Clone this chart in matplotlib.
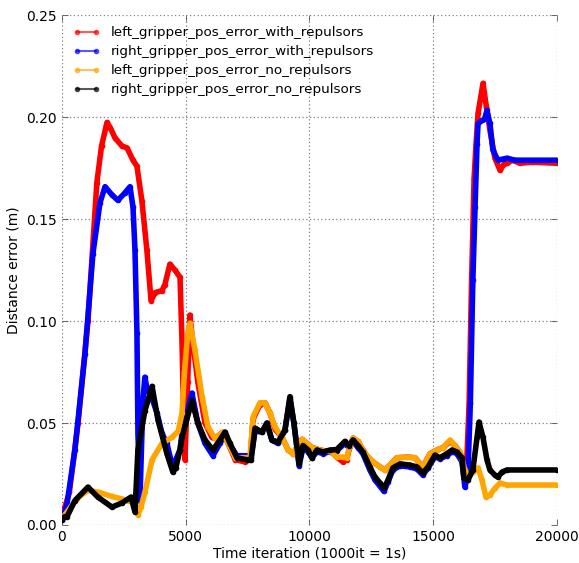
import matplotlib
matplotlib.use("Agg")
import matplotlib.pyplot as plt
from matplotlib.lines import Line2D
from matplotlib.ticker import FormatStrFormatter

labels = ["left_gripper_pos_error_with_repulsors",
          "right_gripper_pos_error_with_repulsors",
          "left_gripper_pos_error_no_repulsors",
          "right_gripper_pos_error_no_repulsors"]
colors = ["#ff0000", "#0000ff", "#ffa500", "#000000"]

red_x = [0, 300, 650, 1050, 1410, 1600, 1820, 1950, 2140, 2420, 2630, 2870, 3030, 3230, 3430, 3600,
         3760, 4040, 4160, 4360, 4570, 4770, 4850, 4920, 4970, 5080, 5170, 5300, 5490, 5780, 6060,
         6180, 6500, 6710, 7000, 7390, 7600, 7720, 8000, 8200, 8400, 8610, 8890, 9130, 9330, 9700,
         10100, 10420, 10900, 11100, 11350, 11500, 11640, 11760, 11960, 12160, 12360, 12560, 12850,
         13050, 13250, 13530, 13940, 14260, 14580, 14870, 15150, 15390, 15680, 15880, 16080, 16250,
         16350, 16450, 16550, 16650, 16730, 16810, 17010, 17150, 17290, 17490, 17700, 17850, 17980,
         18200, 18500, 19000, 20000]
red_y = [0.004, 0.016, 0.050, 0.100, 0.168, 0.186, 0.1975, 0.195, 0.190, 0.186, 0.185, 0.179, 0.176,
         0.159, 0.135, 0.110, 0.114, 0.115, 0.118, 0.128, 0.125, 0.1215, 0.090, 0.050, 0.032, 0.070,
         0.103, 0.088, 0.070, 0.050, 0.043,
         0.0425, 0.0455, 0.040, 0.032, 0.031, 0.032, 0.052, 0.059, 0.060, 0.055, 0.047, 0.043, 0.037,
         0.035, 0.042, 0.038, 0.0368, 0.0358, 0.0333, 0.031, 0.032, 0.039, 0.0426, 0.041, 0.0368,
         0.0333, 0.031, 0.0285, 0.027, 0.0294, 0.033, 0.0333, 0.033, 0.0285, 0.035, 0.0368, 0.038,
         0.041, 0.039, 0.0355, 0.028, 0.030, 0.060, 0.120, 0.170, 0.187, 0.202, 0.2167, 0.205, 0.1936,
         0.180, 0.174, 0.177, 0.1775, 0.179, 0.1775, 0.178, 0.1775]

blue_x = [0, 200, 525, 930, 1250, 1535, 1740, 2020, 2260, 2545, 2750, 2870, 2950, 3030, 3070, 3150,
          3270, 3350, 3450, 3550, 3640, 3840, 4040, 4240, 4480, 4600, 4770, 4850, 5250, 5490, 5780,
          6100, 6380, 6590, 6790, 7070, 7470, 7640, 7800, 8080, 8280, 8480, 8730, 9010, 9210, 9370,
          9580, 9740, 9940, 10100, 10300, 10540, 10830, 11100, 11430, 11600, 11760, 11960, 12160,
          12440, 12650, 12850, 13010, 13170, 13370, 13660, 14060, 14340, 14580, 14790, 15070, 15270,
          15550, 15760, 15960, 16160, 16280, 16400, 16500, 16600, 16690, 16770, 16810, 16970, 17070,
          17170, 17290, 17410, 17610, 17800, 17980, 18300, 20000]
blue_y = [0.0025, 0.010, 0.037, 0.084, 0.133, 0.158, 0.166, 0.162, 0.1593, 0.163, 0.166, 0.156,
          0.135, 0.094, 0.045, 0.012, 0.061, 0.0725, 0.066, 0.064, 0.062, 0.055, 0.045, 0.040, 0.028,
          0.032, 0.037, 0.045, 0.0647, 0.050, 0.040, 0.034, 0.040, 0.0446, 0.039, 0.034, 0.034, 0.033,
          0.046, 0.0456, 0.050, 0.0417, 0.040, 0.0466, 0.062, 0.050, 0.029, 0.038, 0.036, 0.033, 0.036,
          0.035, 0.036, 0.0365, 0.040, 0.038, 0.041, 0.038, 0.035, 0.027, 0.022, 0.019, 0.0165, 0.021,
          0.027, 0.029, 0.0285, 0.0275, 0.0245, 0.028, 0.0335, 0.0325, 0.034, 0.036, 0.035, 0.031,
          0.0186, 0.025, 0.060, 0.120, 0.156, 0.187, 0.197, 0.1985, 0.199, 0.2034, 0.197, 0.184, 0.179,
          0.1795, 0.180, 0.179, 0.179]

orange_x = [0, 300, 600, 1050, 1500, 2020, 2670, 2950, 3070, 3200, 3350, 3640, 4040, 4440, 4700, 4850,
            4950, 5080, 5170, 5370, 5660, 5900, 6180, 6500, 6710, 7000, 7390, 7600, 7720, 8000, 8200,
            8400, 8610, 8890, 9130, 9330, 9700, 10100, 10420, 10900, 11100, 11350, 11500, 11640,
            11760, 11960, 12160, 12360, 12560, 12850, 13050, 13250, 13530, 13940, 14260, 14580, 14870,
            15150, 15390, 15680, 15880, 16080, 16280, 16400, 16600, 16810, 16970, 17130, 17290, 17490,
            17700, 17980, 20000]
orange_y = [0.003, 0.008, 0.013, 0.017, 0.016, 0.014, 0.012, 0.011, 0.005, 0.009, 0.016, 0.032, 0.040,
            0.043, 0.046, 0.055, 0.075, 0.094, 0.099, 0.086, 0.063, 0.048, 0.0425, 0.0455, 0.040,
            0.033, 0.033, 0.033, 0.053, 0.060, 0.060, 0.055, 0.048, 0.043, 0.037, 0.035, 0.042, 0.038,
            0.0368, 0.0358, 0.0333, 0.0333, 0.033, 0.039, 0.0426, 0.041, 0.0368, 0.0333, 0.031, 0.0285,
            0.027, 0.0294, 0.033, 0.0333, 0.033, 0.0285, 0.035, 0.0368, 0.038, 0.0417, 0.039, 0.0358,
            0.027, 0.0235, 0.026, 0.028, 0.022, 0.0137, 0.0147, 0.018, 0.0206, 0.0196, 0.0196]

black_x = [0, 100, 200, 525, 1050, 1450, 2020, 2420, 2790, 2950, 3070, 3350, 3640, 3880, 4240, 4480,
           4600, 4770, 4850, 5250, 5490, 5780, 6100, 6380, 6590, 6790, 7070, 7470, 7640, 7800, 8080,
           8280, 8480, 8730, 9010, 9210, 9370, 9580, 9740, 9940, 10100, 10300, 10540, 10830, 11100,
           11430, 11600, 11760, 11960, 12160, 12440, 12650, 12850, 13010, 13170, 13370, 13660, 14060,
           14340, 14580, 14790, 15070, 15270, 15550, 15760, 15960, 16160, 16240, 16400, 16600, 16770,
           16850, 17010, 17170, 17290, 17490, 17610, 17780, 17980, 20000]
black_y = [0.0025, 0.004, 0.004, 0.012, 0.0186, 0.0137, 0.0088, 0.0108, 0.0137, 0.0064, 0.037, 0.056,
           0.068, 0.0515, 0.035, 0.026, 0.028, 0.037, 0.043, 0.061, 0.050, 0.0417, 0.0368, 0.0417,
           0.0456, 0.040, 0.033, 0.032, 0.032, 0.0475, 0.0456, 0.050, 0.0417, 0.0407, 0.0466, 0.063,
           0.050, 0.030, 0.039, 0.0368, 0.033, 0.0368, 0.0358, 0.0368, 0.037, 0.041, 0.039, 0.0417,
           0.039, 0.0358, 0.0285, 0.0235, 0.0206, 0.018, 0.022, 0.028, 0.030, 0.0294, 0.0285, 0.0255,
           0.0285, 0.0343, 0.033, 0.035, 0.0368, 0.0358, 0.033, 0.023, 0.022, 0.027, 0.043, 0.0505,
           0.043, 0.032, 0.027, 0.0245, 0.0235, 0.026, 0.027, 0.027]

series = [(red_x, red_y), (blue_x, blue_y), (orange_x, orange_y), (black_x, black_y)]

x_ticks = [0, 5000, 10000, 15000, 20000]
y_ticks = [0.00, 0.05, 0.10, 0.15, 0.20, 0.25]

plt.rcParams['font.family'] = ['DejaVu Sans']
fig = plt.figure(figsize=(5.79, 5.63), dpi=100, facecolor='white')
ax = fig.add_axes([0.107, 0.0675, 0.855, 0.905])

for (xs, ys), c in zip(series, colors):
    ax.plot(xs, ys, '-', color=c, lw=4.0, solid_joinstyle='round', solid_capstyle='round')
    ax.plot(xs, ys, '.', color=c, ms=6)

ax.set_xlim(0, 20000)
ax.set_ylim(0, 0.25)
ax.set_xticks(x_ticks)
ax.set_yticks(y_ticks)
ax.yaxis.set_major_formatter(FormatStrFormatter('%.2f'))
for s in ax.spines.values():
    s.set_visible(False)
ax.grid(True, color='#808080', linestyle=(0, (1, 2)), linewidth=0.9)
ax.tick_params(direction='in', top=True, right=True, length=4, width=0.6, labelsize=10, color='#555555')
ax.set_xlabel("Time iteration (1000it = 1s)", fontsize=10, labelpad=2)
ax.set_ylabel("Distance error (m)", fontsize=10, labelpad=4)

handles = [Line2D([], [], color=c, lw=1.5, alpha=0.65, marker='.', ms=6,
                  markerfacecolor=c, markeredgecolor=c) for c in colors]
leg = ax.legend(handles, labels, loc='upper left', frameon=False, fontsize=9.7, numpoints=2,
                handlelength=2.0, labelspacing=0.45, borderaxespad=0.4, bbox_to_anchor=(0.0, 1.0))

fig.savefig("out.png", dpi=100, facecolor='white')
